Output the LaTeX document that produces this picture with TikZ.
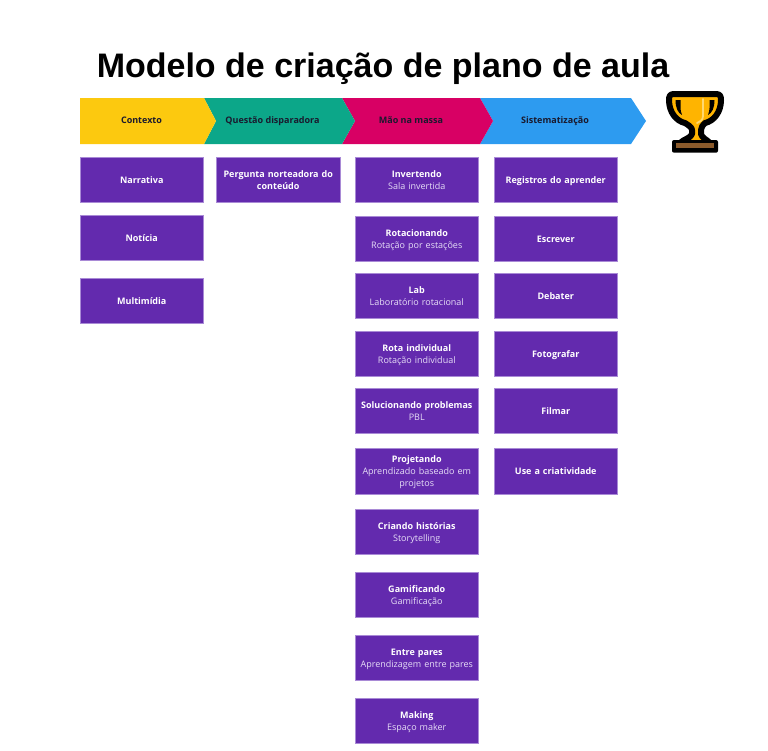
\documentclass[tikz,border=0pt]{standalone}
\usepackage{fontspec}
\setmainfont{Open Sans}
\newfontfamily\titlefont{Liberation Sans}
\definecolor{cardfill}{HTML}{632AAE}
\definecolor{cardline}{HTML}{A98AD6}
\definecolor{subtext}{HTML}{E6DDF6}
\definecolor{yel}{HTML}{FCC90F}
\definecolor{grn}{HTML}{0CA789}
\definecolor{mag}{HTML}{D80064}
\definecolor{blu}{HTML}{2D9BF0}
\definecolor{ink}{HTML}{1A1A2E}
\definecolor{gold}{HTML}{FFB400}
\definecolor{goldlight}{HTML}{FFD870}
\definecolor{wood}{HTML}{8B5A2B}
\newcommand{\cardtop}{\rule{0pt}{9.8pt}}
\newcommand{\cardbot}{\rule[-2.8pt]{0pt}{2.8pt}}
\tikzset{x=1pt,y=-1pt,
  every node/.style={inner sep=0pt,outer sep=0pt},
  card/.style={draw=cardline,line width=.5pt,fill=cardfill,minimum width=123.5pt,minimum height=45.5pt,text width=120pt,align=center,text=white,font=\fontsize{9}{12.2}\selectfont,anchor=north west,
    execute at begin node=\cardtop,execute at end node=\cardbot},
  chevlabel/.style={font=\fontsize{9}{12}\selectfont\bfseries,text=ink,text height=7pt,text depth=2pt}}
\newcommand{\ct}[2]{{\bfseries #1}\\{\color{subtext}#2}}
\begin{document}
\begin{tikzpicture}
\useasboundingbox (0,0) rectangle (768,750);
\node[anchor=center,font=\titlefont\fontsize{34}{40}\selectfont\bfseries] (title) at (383,68.5) {Modelo de criação de plano de aula};
% chevrons, last first so each overlaps the previous tip
\fill[blu] (480,98) -- (631,98) -- (646,121) -- (631,144) -- (480,144) -- (493,121) -- cycle;
\fill[mag] (342,98) -- (480,98) -- (493,121) -- (480,144) -- (342,144) -- (355,121) -- cycle;
\fill[grn] (204,98) -- (342,98) -- (355,121) -- (342,144) -- (204,144) -- (216,121) -- cycle;
\fill[yel] (80,98) -- (204,98) -- (216,121) -- (204,144) -- (80,144) -- cycle;
\node[chevlabel] (c1) at (141.5,121) {Contexto};
\node[chevlabel] (c2) at (272.5,121) {Questão disparadora};
\node[chevlabel] (c3) at (411,121) {Mão na massa};
\node[chevlabel] (c4) at (555,121) {Sistematização};
% column 1
\node[card] (a1) at (80,157) {\textbf{Narrativa}};
\node[card] (a2) at (80,215) {\textbf{Notícia}};
\node[card] (a3) at (80,278) {\textbf{Multimídia}};
% column 2
\node[card] (b1) at (216.5,157) {\textbf{Pergunta norteadora do\\conteúdo}};
% column 3
\node[card] (m1) at (355,157) {\ct{Invertendo}{Sala invertida}};
\node[card] (m2) at (355,216) {\ct{Rotacionando}{Rotação por estações}};
\node[card] (m3) at (355,273) {\ct{Lab}{Laboratório rotacional}};
\node[card] (m4) at (355,331) {\ct{Rota individual}{Rotação individual}};
\node[card] (m5) at (355,388) {\ct{Solucionando problemas}{PBL}};
\node[card] (m6) at (355,448.5) {\ct{Projetando}{Aprendizado baseado em\\projetos}};
\node[card] (m7) at (355,509) {\ct{Criando histórias}{Storytelling}};
\node[card] (m8) at (355,572) {\ct{Gamificando}{Gamificação}};
\node[card] (m9) at (355,635) {\ct{Entre pares}{Aprendizagem entre pares}};
\node[card] (m10) at (355,698) {\ct{Making}{Espaço maker}};
% column 4
\node[card] (s1) at (494,157) {\textbf{Registros do aprender}};
\node[card] (s2) at (494,216) {\textbf{Escrever}};
\node[card] (s3) at (494,273) {\textbf{Debater}};
\node[card] (s4) at (494,331) {\textbf{Fotografar}};
\node[card] (s5) at (494,388) {\textbf{Filmar}};
\node[card] (s6) at (494,448.5) {\textbf{Use a criatividade}};
% trophy
\begin{scope}[line join=round]
\fill[black,rounded corners=2pt] (672,140) rectangle (718,152.7);
\draw[black,line width=6pt,fill=gold]
  (674,94) -- (716,94) .. controls (720,94) and (721,96) .. (721,100)
  .. controls (721,112) and (714,121) .. (705,123)
  .. controls (703,125) and (701,127) .. (701,130) -- (701,134)
  .. controls (702,138) and (706,139) .. (710,143) -- (680,143)
  .. controls (684,139) and (691,138) .. (692,134) -- (692,130)
  .. controls (692,127) and (688,125) .. (685,123)
  .. controls (676,121) and (669,112) .. (669,100)
  .. controls (669,96) and (670,94) .. (674,94) -- cycle;
\fill[black] (675.5,100) -- (680.5,100) -- (680.5,108) .. controls (680.5,110) and (681,112) .. (682,115)
  .. controls (678,113) and (675.5,108) .. (675.5,100) -- cycle;
\fill[black] (714.5,100) -- (709.5,100) -- (709.5,108) .. controls (709.5,110) and (709,112) .. (708,115)
  .. controls (712,113) and (714.5,108) .. (714.5,100) -- cycle;
\draw[goldlight,line width=1.8pt,line cap=round] (703,99) -- (703,116) .. controls (703,120) and (700,122) .. (697,123);
\fill[wood] (676,143) rectangle (714,148.3);
\end{scope}
\end{tikzpicture}
\end{document}
